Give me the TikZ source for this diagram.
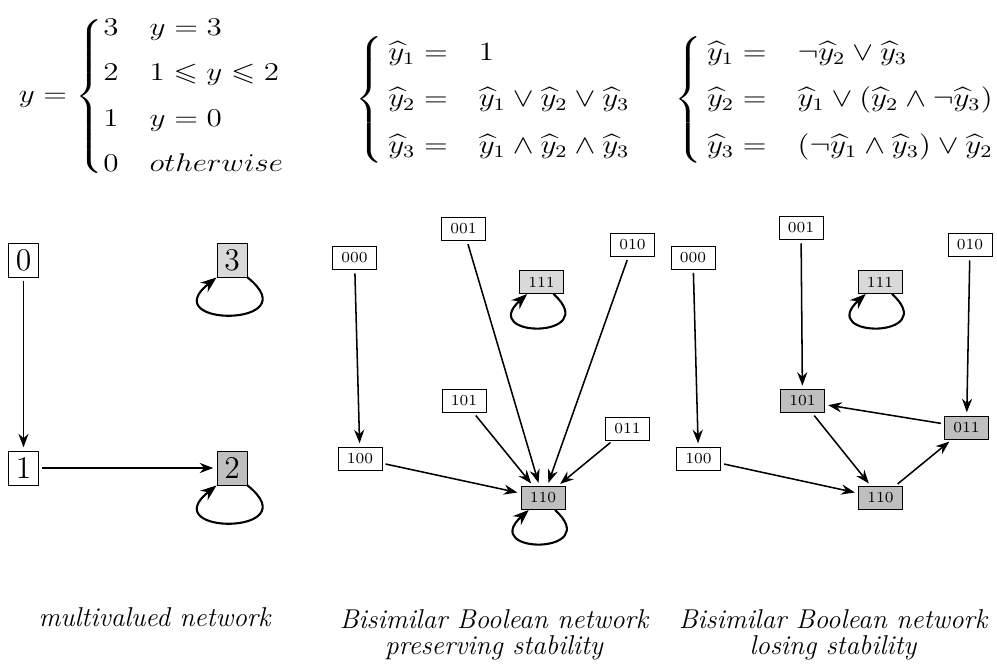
\documentclass[tikz,border=0pt]{standalone}
\usepackage{amsmath}
\usepackage{amssymb}
\usepackage{graphicx}
\usetikzlibrary{arrows.meta}

\begin{document}
\begin{tikzpicture}[
    x=0.016cm, y=-0.016cm,
    big/.style = {draw, font=\Large, minimum width=13.7pt, minimum height=15.5pt, inner sep=0pt},
    state/.style = {draw, font=\scriptsize, minimum width=20pt, minimum height=10.5pt, inner sep=0pt},
    fixed/.style = {fill=gray!50},
    lone/.style = {fill=gray!30},
    trans/.style = {-{Stealth}, line width=0.7pt, shorten >=1.5pt, shorten <=1.5pt},
    self/.style = {-{Stealth}, line width=0.95pt},
    eqn/.style = {inner sep=0pt, font=\large},
    caption/.style = {font=\fontsize{12.4}{12}\selectfont\itshape, align=center},
  ]
  \useasboundingbox (0,0) rectangle (997,665);

  % the three systems of equations
  \node[eqn] (eqm) at (152.5,96.5) {\delimiterfactor=800 \delimitershortfall=14pt
    \scalebox{1.18}[0.97]{$y = \begin{cases}
        3 & y = 3 \\[4.5pt]
        2 & 1 \leqslant y \leqslant 2 \\[4.5pt]
        1 & y = 0 \\[4.5pt]
        0 & otherwise
      \end{cases}$}};
  \node[eqn] (eqa) at (494,99.5) {\scalebox{1.18}[1]{$\begin{cases}
        \,\widehat{y}_1 = & 1 \\[4.5pt]
        \,\widehat{y}_2 = & \widehat{y}_1 \vee \widehat{y}_2 \vee \widehat{y}_3 \\[4.5pt]
        \,\widehat{y}_3 = & \widehat{y}_1 \wedge \widehat{y}_2 \wedge \widehat{y}_3
      \end{cases}$}};
  \node[eqn] (eqb) at (835,99.5) {\scalebox{1.18}[1]{$\begin{cases}
        \,\widehat{y}_1 = & \neg\widehat{y}_2 \vee \widehat{y}_3 \\[4.5pt]
        \,\widehat{y}_2 = & \widehat{y}_1 \vee (\widehat{y}_2 \wedge \neg\widehat{y}_3) \\[4.5pt]
        \,\widehat{y}_3 = & (\neg\widehat{y}_1 \wedge \widehat{y}_3) \vee \widehat{y}_2
      \end{cases}$}};

  % multivalued network
  \node[big] (n0) at (23.5,260) {0};
  \node[big, lone] (n3) at (232,260) {3};
  \node[big] (n1) at (23.5,468) {1};
  \node[big, fixed] (n2) at (232,468) {2};

  \draw[trans] (n0) -- (n1);
  \draw[trans] (n1) -- (n2);
  \draw[self] (n3.south east) .. controls +(63,50) and +(-63,50) .. (n3.south west);
  \draw[self] (n2.south east) .. controls +(63,50) and +(-63,50) .. (n2.south west);

  % Boolean network preserving stability
  \node[state] (a000) at (354.5,258) {000};
  \node[state] (a001) at (463.5,229) {001};
  \node[state] (a010) at (632.5,245) {010};
  \node[state, lone] (a111) at (541.5,282) {111};
  \node[state] (a101) at (464,401) {101};
  \node[state] (a011) at (627.5,428.5) {011};
  \node[state] (a100) at (360,458.5) {100};
  \node[state, fixed] (a110) at (543,498) {110};

  \draw[trans] (a000) -- (a100);
  \foreach \src in {001,010,101,011,100}
    \draw[trans] (a\src) -- (a110);
  \draw[self] (a111.-45) .. controls +(50,45) and +(-50,45) .. (a111.-140);
  \draw[self] (a110.-45) .. controls +(50,45) and +(-50,45) .. (a110.-140);

  % Boolean network losing stability
  \node[state] (b000) at (693,257.5) {000};
  \node[state] (b001) at (801,228) {001};
  \node[state] (b010) at (970,245) {010};
  \node[state, lone] (b111) at (880,282) {111};
  \node[state, fixed] (b101) at (802.5,401) {101};
  \node[state, fixed] (b011) at (966.5,427.5) {011};
  \node[state] (b100) at (698.5,458.5) {100};
  \node[state, fixed] (b110) at (880.5,498) {110};

  \draw[trans] (b000) -- (b100);
  \draw[trans] (b001) -- (b101);
  \draw[trans] (b010) -- (b011);
  \draw[trans] (b011) -- (b101);
  \draw[trans] (b101) -- (b110);
  \draw[trans] (b110) -- (b011);
  \draw[trans] (b100) -- (b110);
  \draw[self] (b111.-45) .. controls +(50,45) and +(-50,45) .. (b111.-140);

  % captions
  \node[caption] (capm) at (154.5,617) {multivalued network};
  \node[caption] (capa) at (494,635) {Bisimilar Boolean network\\preserving stability};
  \node[caption] (capb) at (833,635) {Bisimilar Boolean network\\losing stability};
\end{tikzpicture}
\end{document}
